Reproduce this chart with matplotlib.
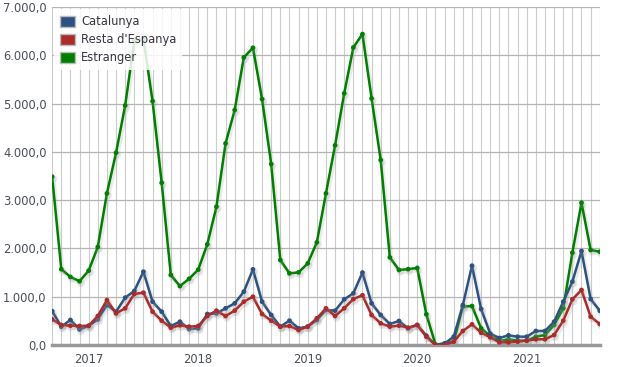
import numpy as np
import matplotlib
matplotlib.use("Agg")
import matplotlib.pyplot as plt
import matplotlib.patheffects as pe
from matplotlib.patches import Patch
from matplotlib.ticker import FuncFormatter

# monthly series, Sep 2016 .. Sep 2021 (61 months)
catalunya = [700, 380, 518, 324, 393, 531, 828, 690, 980, 1118, 1518,
             897, 690, 393, 483, 331, 345, 642, 655, 759, 862, 1104,
             1566, 897, 621, 380, 504, 345, 380, 518, 725, 711,
             946, 1070, 1500, 862, 621, 435, 497, 345, 414, 193,
             0, 30, 172, 828, 1642, 745, 235, 145, 200, 172, 172, 290,
             290, 482, 897, 1311, 1946, 952, 710]
resta = [531, 414, 400, 393, 400, 600, 931, 655, 759, 1056, 1083,
         690, 504, 359, 407, 380, 393, 600, 711, 600, 711, 897,
         1000, 642, 504, 380, 393, 310, 380, 552, 759, 600,
         760, 950, 1030, 621, 449, 380, 400, 359, 414, 172,
         0, 0, 69, 290, 428, 255, 159, 55, 55, 69, 90, 118,
         118, 207, 503, 946, 1139, 586, 435]
estranger = [3485, 1570, 1410, 1320, 1540, 2030, 3140, 3980, 4960, 6300, 6340,
             5050, 3360, 1450, 1220, 1370, 1560, 2084, 2864, 4175, 4865, 5955,
             6155, 5092, 3747, 1760, 1484, 1504, 1690, 2125, 3140, 4135,
             5210, 6162, 6438, 5106, 3830, 1815, 1553, 1570, 1595, 635,
             10, 30, 70, 793, 807, 345, 186, 83, 118, 90, 90, 172,
             207, 414, 760, 1911, 2946, 1967, 1932]

series_names = ["Catalunya", "Resta d'Espanya", "Estranger"]
series_colors = ["#2c5281", "#ac2a2a", "#007f00"]
year_labels = ["2017", "2018", "2019", "2020", "2021"]
year_pos = [4, 16, 28, 40, 52]  # January of each year

months = np.arange(len(catalunya))

fig = plt.figure(figsize=(6.36, 3.67), dpi=100)
ax = fig.add_axes([0.082, 0.06, 0.861, 0.921])

shadow = [pe.SimpleLineShadow(offset=(1, -1.5), shadow_color="#999999", alpha=0.2, linewidth=3),
          pe.Normal()]

for vals, col in zip([estranger, catalunya, resta], [series_colors[2], series_colors[0], series_colors[1]]):
    ax.plot(months, vals, color=col, linewidth=1.8, marker="o", markersize=2.4,
            path_effects=shadow, zorder=3)

ax.set_xlim(0, len(catalunya) - 1)
ax.set_ylim(0, 7000)

# grid: every month vertical, every 1000 horizontal
ax.set_xticks(months, minor=True)
ax.set_xticks(year_pos)
ax.set_xticklabels(year_labels)
ax.set_yticks(np.arange(0, 7001, 1000))
ax.yaxis.set_major_formatter(FuncFormatter(
    lambda v, p: "{:,.1f}".format(v).replace(",", "X").replace(".", ",").replace("X", ".")))
ax.grid(which="minor", axis="x", color="#cccccc", linewidth=0.8)
ax.grid(which="major", axis="x", color="#cccccc", linewidth=0.8)
ax.grid(which="major", axis="y", color="#b5b5b5", linewidth=0.9)
ax.set_axisbelow(True)

for s in ["top", "right", "left"]:
    ax.spines[s].set_visible(False)
ax.spines["bottom"].set_color("#999999")
ax.spines["bottom"].set_linewidth(2.5)
ax.tick_params(axis="both", which="both", length=0, labelsize=8.3, colors="#4a4f57")
ax.tick_params(axis="x", pad=6)
ax.tick_params(axis="y", pad=4)

handles = [Patch(facecolor=c, edgecolor="#bbbbbb", linewidth=1) for c in series_colors]
leg = ax.legend(handles, series_names, loc="upper left", bbox_to_anchor=(0.0, 1.0),
                fontsize=8.3, frameon=True, framealpha=0.85, edgecolor="none",
                handlelength=1.3, handleheight=1.1, handletextpad=0.5,
                labelspacing=0.45, borderpad=0.5, borderaxespad=0.2)
for t in leg.get_texts():
    t.set_color("#3a3440")
leg.set_zorder(5)

fig.savefig("out.png", dpi=100)
